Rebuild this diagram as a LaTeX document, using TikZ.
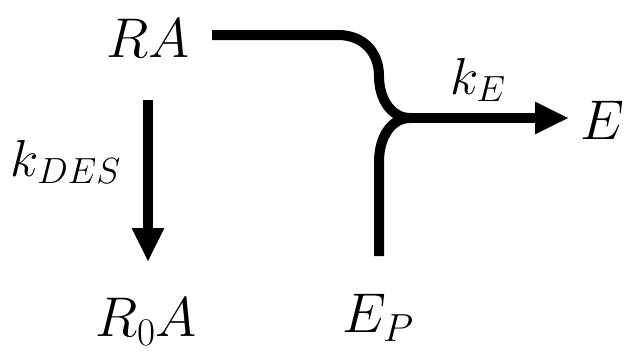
\documentclass[tikz,border=0pt]{standalone}
\usepackage{fix-cm}
\usetikzlibrary{arrows.meta}
\begin{document}
\begin{tikzpicture}[x=1pt,y=-1pt,
  lbl/.style={inner sep=0pt, font=\fontsize{56}{60}\selectfont},
  rate/.style={inner sep=0pt, font=\fontsize{52}{56}\selectfont},
  flow/.style={line width=10pt},
  head/.style={-{Triangle[length=34pt,width=30pt]}}]
\useasboundingbox (0,0) rectangle (634,360);
\node[lbl] (RA) at (148,38) {$RA$};
\node[lbl] (R0A) at (146,322) {$R_0A$};
\node[lbl] (EP) at (378,318) {$E_P$};
\node[lbl] (E) at (602,120) {$E$};
\node[rate] (kE) at (478,80) {$k_E$};
\node[rate] (kDES) at (66,162) {$k_{DES}$};
\coordinate (s1) at (212,35);
\coordinate (J) at (410,118);
\coordinate (t1) at (569,118);
\coordinate (s2) at (379,256);
\coordinate (d1) at (148,100);
\coordinate (d2) at (148,262);
\draw[flow] (s1) -- (338,35) .. controls (363,35) and (379,52) .. (379,76)
  .. controls (379,100) and (392,118) .. (J);
\draw[flow] (s2) -- (379,162) .. controls (379,136) and (392,118) .. (J);
\draw[flow,head] (J) -- (t1);
\draw[flow,head] (d1) -- (d2);
\end{tikzpicture}
\end{document}
